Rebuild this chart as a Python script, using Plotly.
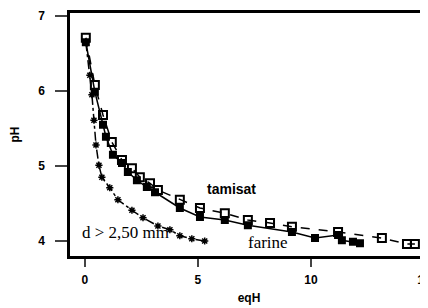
import plotly.graph_objects as go

# tamisat (open markers, dashed)
tam_x = [0.04, 0.44, 0.8, 1.19, 1.64, 2.08, 2.43, 2.88, 3.23, 4.2, 5.09, 6.19, 7.21, 8.19, 9.16, 11.2, 13.14, 14.25, 14.6]
tam_y = [6.71, 6.08, 5.68, 5.32, 5.08, 4.97, 4.85, 4.77, 4.68, 4.55, 4.44, 4.37, 4.28, 4.24, 4.19, 4.12, 4.04, 3.96, 3.96]

# farine (filled markers, solid)
far_x = [0.04, 0.44, 0.8, 0.93, 1.24, 1.64, 1.9, 2.3, 2.74, 3.1, 4.2, 5.09, 6.19, 7.21, 9.16, 10.18, 11.2, 11.37, 11.86, 12.17]
far_y = [6.65, 5.99, 5.55, 5.39, 5.15, 5.04, 4.92, 4.81, 4.72, 4.65, 4.44, 4.32, 4.28, 4.21, 4.12, 4.04, 4.08, 4.01, 3.99, 3.97]

# d > 2,50 mm (x markers, dash-dot)
d_x = [0.04, 0.22, 0.31, 0.4, 0.49, 0.62, 0.75, 1.1, 1.46, 2.08, 2.57, 3.23, 3.76, 4.2, 4.73, 5.3]
d_y = [6.65, 6.21, 5.95, 5.61, 5.28, 5.01, 4.85, 4.71, 4.55, 4.41, 4.31, 4.2, 4.15, 4.07, 4.03, 4.0]

x_ticks = [0, 5, 10, 15]
y_ticks = [4, 5, 6, 7]

fig = go.Figure()
fig.add_trace(go.Scatter(x=tam_x, y=tam_y, mode="lines+markers",
                         line=dict(color="black", width=1.5, dash="dash"),
                         marker=dict(symbol="square-open", size=8, color="black", line=dict(width=2))))
fig.add_trace(go.Scatter(x=far_x, y=far_y, mode="lines+markers",
                         line=dict(color="black", width=1.5),
                         marker=dict(symbol="square", size=8, color="black")))
fig.add_trace(go.Scatter(x=d_x, y=d_y, mode="lines+markers",
                         line=dict(color="black", width=1.5, dash="dashdot"),
                         marker=dict(symbol="asterisk-open", size=6, color="black", line=dict(width=1.5, color="black"))))

fig.add_annotation(x=6.5, y=4.7, text="tamisat", showarrow=False,
                   font=dict(family="Liberation Sans", size=14, color="black", weight="bold"))
fig.add_annotation(x=8.1, y=3.98, text="farine", showarrow=False,
                   font=dict(family="Liberation Serif", size=17, color="black"))
fig.add_annotation(x=1.8, y=4.12, text="d > 2,50 mm", showarrow=False,
                   font=dict(family="Liberation Serif", size=17, color="black"))

# The page body has an 8px default margin; the figure is sized so it fits the 428x308 window.
fig.update_layout(
    width=420, height=300,
    margin=dict(l=62, r=0, t=5, b=52),
    paper_bgcolor="white", plot_bgcolor="white",
    showlegend=False,
    font=dict(family="Liberation Sans", size=12, color="black"),
)
fig.update_xaxes(range=[-0.66, 15.18], tickvals=x_ticks, ticks="outside", ticklen=8, tickwidth=1.5,
                 showline=True, linecolor="black", linewidth=2.5, mirror=True, showgrid=False, zeroline=False,
                 automargin=False, ticklabelstandoff=3, ticklabeloverflow="allow",
                 tickfont=dict(size=12, weight="bold"),
                 title=dict(text="eqH", font=dict(size=12, weight="bold"), standoff=8))
fig.update_yaxes(range=[3.8, 7.04], tickvals=y_ticks, ticks="outside", ticklen=12, tickwidth=1.5,
                 showline=True, linecolor="black", linewidth=2.5, mirror=False, showgrid=False, zeroline=False,
                 automargin=False, ticklabelstandoff=8,
                 tickfont=dict(size=12, weight="bold"),
                 title=dict(text="pH", font=dict(size=12, weight="bold"), standoff=16))

fig.write_html("out.html")
